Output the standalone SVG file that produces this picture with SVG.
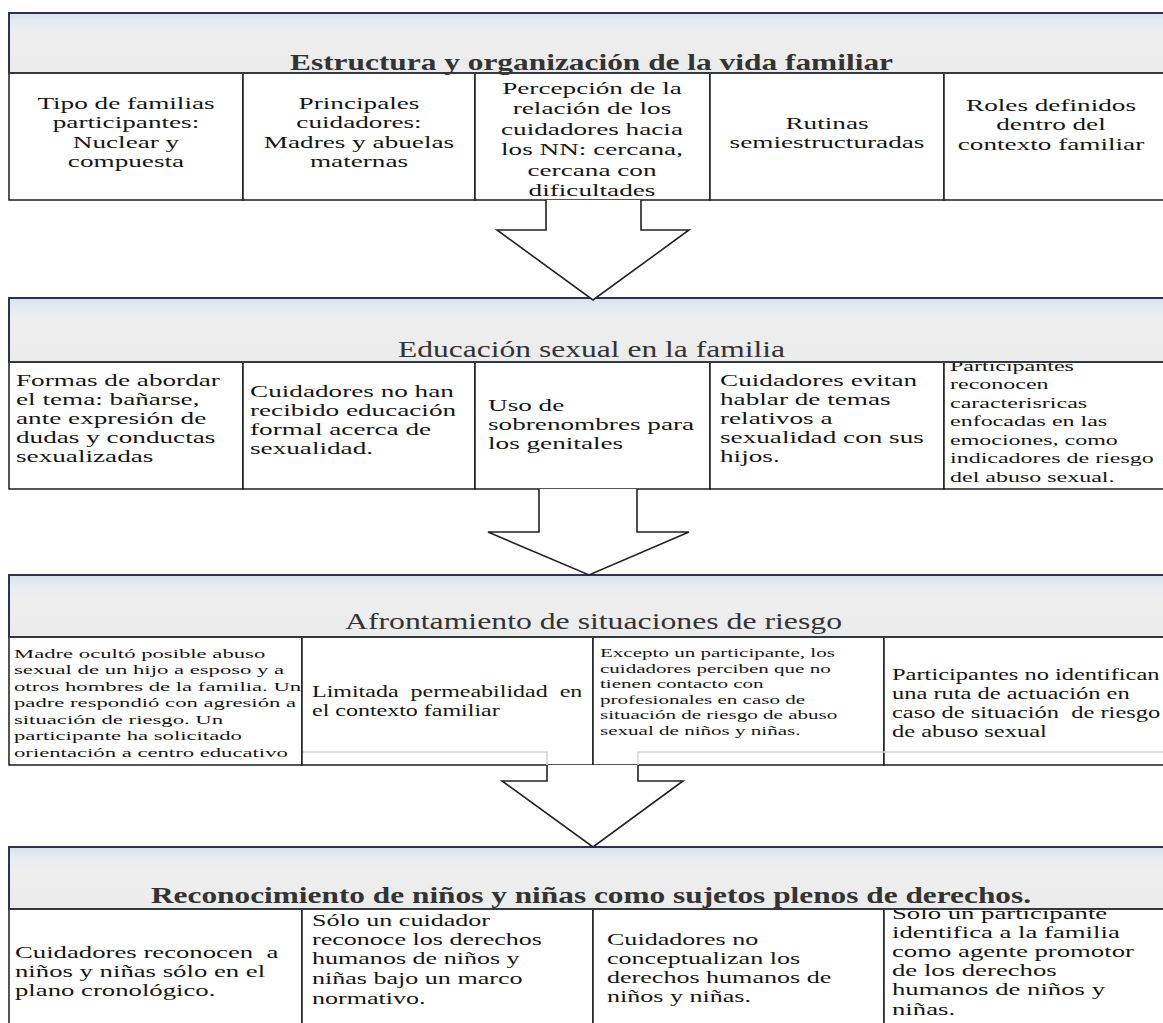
<svg xmlns="http://www.w3.org/2000/svg" width="1163" height="1023" viewBox="0 0 1163 1023">
<defs>
<linearGradient id="hg" x1="0" y1="0" x2="0" y2="1">
<stop offset="0" stop-color="#d9e1ee"/>
<stop offset="0.12" stop-color="#e4e9f1"/>
<stop offset="0.35" stop-color="#eeeeee"/>
<stop offset="1" stop-color="#ebebeb"/>
</linearGradient>
</defs>
<style>
.hdr{fill:url(#hg);stroke:#2b3452;stroke-width:2}
.hb{stroke:#3a3a3a;stroke-width:1.5}
.cell{fill:#fff;stroke:#1c1c1c;stroke-width:1.5}
.t{font-family:"Liberation Serif","Times New Roman",serif;fill:#161616}
.c{text-anchor:middle}
.ttl{font-family:"Liberation Serif","Times New Roman",serif;fill:#333}
.arrow{fill:#fff;stroke:#222;stroke-width:1.6;stroke-linejoin:miter}
.faint{fill:none;stroke:#d4d4d4;stroke-width:1.5}
</style>

<!-- Section 1 cells -->
<g id="s1-c1"><rect class="cell" x="9" y="73" width="234" height="127"/>
<g transform="translate(126,0) scale(1.6,1)"><text class="t c" font-size="17"><tspan x="0" y="109">Tipo de familias</tspan><tspan x="0" y="128.5">participantes:</tspan><tspan x="0" y="148">Nuclear y</tspan><tspan x="0" y="167.5">compuesta</tspan></text></g></g>
<g id="s1-c2"><rect class="cell" x="243" y="73" width="232" height="127"/>
<g transform="translate(359,0) scale(1.6,1)"><text class="t c" font-size="17"><tspan x="0" y="109">Principales</tspan><tspan x="0" y="128.5">cuidadores:</tspan><tspan x="0" y="148">Madres y abuelas</tspan><tspan x="0" y="167.5">maternas</tspan></text></g></g>
<g id="s1-c3"><rect class="cell" x="475" y="73" width="235" height="127"/>
<g transform="translate(592,0) scale(1.6,1)"><text class="t c" font-size="17"><tspan x="0" y="94">Percepción de la</tspan><tspan x="0" y="114.5">relación de los</tspan><tspan x="0" y="135">cuidadores hacia</tspan><tspan x="0" y="155.5">los NN: cercana,</tspan><tspan x="0" y="176">cercana con</tspan><tspan x="0" y="196.5">dificultades</tspan></text></g></g>
<g id="s1-c4"><rect class="cell" x="710" y="73" width="234" height="127"/>
<g transform="translate(827,0) scale(1.6,1)"><text class="t c" font-size="17"><tspan x="0" y="129">Rutinas</tspan><tspan x="0" y="148.5">semiestructuradas</tspan></text></g></g>
<g id="s1-c5"><rect class="cell" x="944" y="73" width="230" height="127"/>
<g transform="translate(1051,0) scale(1.6,1)"><text class="t c" font-size="17"><tspan x="0" y="111">Roles definidos</tspan><tspan x="0" y="130.5">dentro del</tspan><tspan x="0" y="150">contexto familiar</tspan></text></g></g>

<g id="s1-header"><rect class="hdr" x="9" y="13" width="1165" height="60"/><line class="hb" x1="9" y1="73" x2="1163" y2="73"/>
<text class="ttl" x="290" y="70" font-size="23" font-weight="bold" textLength="603" lengthAdjust="spacingAndGlyphs">Estructura y organización de la vida familiar</text></g>

<!-- Section 2 cells -->
<g id="s2-c1"><rect class="cell" x="9" y="362" width="234" height="127"/>
<g transform="translate(16,0) scale(1.6,1)"><text class="t" font-size="17"><tspan x="0" y="386">Formas de abordar</tspan><tspan x="0" y="405">el tema: bañarse,</tspan><tspan x="0" y="424">ante expresión de</tspan><tspan x="0" y="443">dudas y conductas</tspan><tspan x="0" y="462">sexualizadas</tspan></text></g></g>
<g id="s2-c2"><rect class="cell" x="243" y="362" width="232" height="127"/>
<g transform="translate(250,0) scale(1.6,1)"><text class="t" font-size="17"><tspan x="0" y="397">Cuidadores no han</tspan><tspan x="0" y="416">recibido educación</tspan><tspan x="0" y="435">formal acerca de</tspan><tspan x="0" y="454">sexualidad.</tspan></text></g></g>
<g id="s2-c3"><rect class="cell" x="475" y="362" width="235" height="127"/>
<g transform="translate(488,0) scale(1.6,1)"><text class="t" font-size="17"><tspan x="0" y="411">Uso de</tspan><tspan x="0" y="430">sobrenombres para</tspan><tspan x="0" y="449">los genitales</tspan></text></g></g>
<g id="s2-c4"><rect class="cell" x="710" y="362" width="234" height="127"/>
<g transform="translate(720,0) scale(1.6,1)"><text class="t" font-size="17"><tspan x="0" y="386">Cuidadores evitan</tspan><tspan x="0" y="405">hablar de temas</tspan><tspan x="0" y="424">relativos a</tspan><tspan x="0" y="443">sexualidad con sus</tspan><tspan x="0" y="462">hijos.</tspan></text></g></g>
<g id="s2-c5"><rect class="cell" x="944" y="362" width="230" height="127"/>
<g transform="translate(950,0) scale(1.6,1)"><text class="t" font-size="15"><tspan x="0" y="371">Participantes</tspan><tspan x="0" y="389">reconocen</tspan><tspan x="0" y="408">caracterisricas</tspan><tspan x="0" y="426">enfocadas en las</tspan><tspan x="0" y="445">emociones, como</tspan><tspan x="0" y="463">indicadores de riesgo</tspan><tspan x="0" y="482">del abuso sexual.</tspan></text></g></g>

<g id="s2-header"><rect class="hdr" x="9" y="298" width="1165" height="64"/><line class="hb" x1="9" y1="362" x2="1163" y2="362"/>
<text class="ttl" x="398" y="357" font-size="24" textLength="387" lengthAdjust="spacingAndGlyphs">Educación sexual en la familia</text></g>

<!-- Section 3 cells -->
<g id="s3-c1"><rect class="cell" x="9" y="637" width="293" height="128"/>
<g transform="translate(14,0) scale(1.68,1)"><text class="t" font-size="13.5"><tspan x="0" y="658">Madre ocultó posible abuso</tspan><tspan x="0" y="674.5">sexual de un hijo a esposo y a</tspan><tspan x="0" y="691">otros hombres de la familia. Un</tspan><tspan x="0" y="707.5">padre respondió con agresión a</tspan><tspan x="0" y="724">situación de riesgo. Un</tspan><tspan x="0" y="740.5">participante ha solicitado</tspan><tspan x="0" y="757">orientación a centro educativo</tspan></text></g></g>
<g id="s3-c2"><rect class="cell" x="302" y="637" width="291" height="128"/>
<g transform="translate(312,0) scale(1.5,1)"><text class="t" font-size="16" xml:space="preserve"><tspan x="0" y="697">Limitada  permeabilidad  en</tspan><tspan x="0" y="716">el contexto familiar</tspan></text></g></g>
<g id="s3-c3"><rect class="cell" x="593" y="637" width="291" height="128"/>
<g transform="translate(600,0) scale(1.56,1)"><text class="t" font-size="13.5"><tspan x="0" y="657">Excepto un participante, los</tspan><tspan x="0" y="673">cuidadores perciben que no</tspan><tspan x="0" y="688.5">tienen contacto con</tspan><tspan x="0" y="704">profesionales en caso de</tspan><tspan x="0" y="719.5">situación de riesgo de abuso</tspan><tspan x="0" y="735">sexual de niños y niñas.</tspan></text></g></g>
<g id="s3-c4"><rect class="cell" x="884" y="637" width="290" height="128"/>
<g transform="translate(892,0) scale(1.53,1)"><text class="t" font-size="16" xml:space="preserve"><tspan x="0" y="680">Participantes no identifican</tspan><tspan x="0" y="699">una ruta de actuación en</tspan><tspan x="0" y="718">caso de situación  de riesgo</tspan><tspan x="0" y="737">de abuso sexual</tspan></text></g></g>
<path class="faint" d="M303,752 H547 V765 M638,765 V752 H1163"/>

<g id="s3-header"><rect class="hdr" x="9" y="575" width="1165" height="62"/><line class="hb" x1="9" y1="637" x2="1163" y2="637"/>
<text class="ttl" x="345" y="629" font-size="23" textLength="497" lengthAdjust="spacingAndGlyphs">Afrontamiento de situaciones de riesgo</text></g>

<!-- Section 4 cells -->
<g id="s4-c1"><rect class="cell" x="9" y="909" width="293" height="130"/>
<g transform="translate(15,0) scale(1.62,1)"><text class="t" font-size="16.5" xml:space="preserve"><tspan x="0" y="958">Cuidadores reconocen  a</tspan><tspan x="0" y="977">niños y niñas sólo en el</tspan><tspan x="0" y="996">plano cronológico.</tspan></text></g></g>
<g id="s4-c2"><rect class="cell" x="302" y="909" width="291" height="130"/>
<g transform="translate(312,0) scale(1.58,1)"><text class="t" font-size="16.5"><tspan x="0" y="926">Sólo un cuidador</tspan><tspan x="0" y="945">reconoce los derechos</tspan><tspan x="0" y="964">humanos de niños y</tspan><tspan x="0" y="984">niñas bajo un marco</tspan><tspan x="0" y="1004">normativo.</tspan></text></g></g>
<g id="s4-c3"><rect class="cell" x="593" y="909" width="291" height="130"/>
<g transform="translate(607,0) scale(1.58,1)"><text class="t" font-size="16.5"><tspan x="0" y="945">Cuidadores no</tspan><tspan x="0" y="964">conceptualizan los</tspan><tspan x="0" y="983">derechos humanos de</tspan><tspan x="0" y="1002">niños y niñas.</tspan></text></g></g>
<g id="s4-c4"><rect class="cell" x="884" y="909" width="290" height="130"/>
<g transform="translate(892,0) scale(1.62,1)"><text class="t" font-size="16.5"><tspan x="0" y="919">Sólo un participante</tspan><tspan x="0" y="938">identifica a la familia</tspan><tspan x="0" y="957">como agente promotor</tspan><tspan x="0" y="976">de los derechos</tspan><tspan x="0" y="995">humanos de niños y</tspan><tspan x="0" y="1015">niñas.</tspan></text></g></g>

<g id="s4-header"><rect class="hdr" x="9" y="847" width="1165" height="62"/><line class="hb" x1="9" y1="909" x2="1163" y2="909"/>
<text class="ttl" x="151" y="903" font-size="23" font-weight="bold" textLength="880" lengthAdjust="spacingAndGlyphs">Reconocimiento de niños y niñas como sujetos plenos de derechos.</text></g>

<!-- Connectors -->
<g id="connectors">
<path class="arrow" d="M546,200 V230 H497 L593,300 L689,230 H641 V200"/>
<path class="arrow" d="M539,489 V532 H488 L589,575 L689,532 H637 V489"/>
<path class="arrow" d="M547,765 V781 H502 L593,847 L683,781 H638 V765"/>
</g>
</svg>
